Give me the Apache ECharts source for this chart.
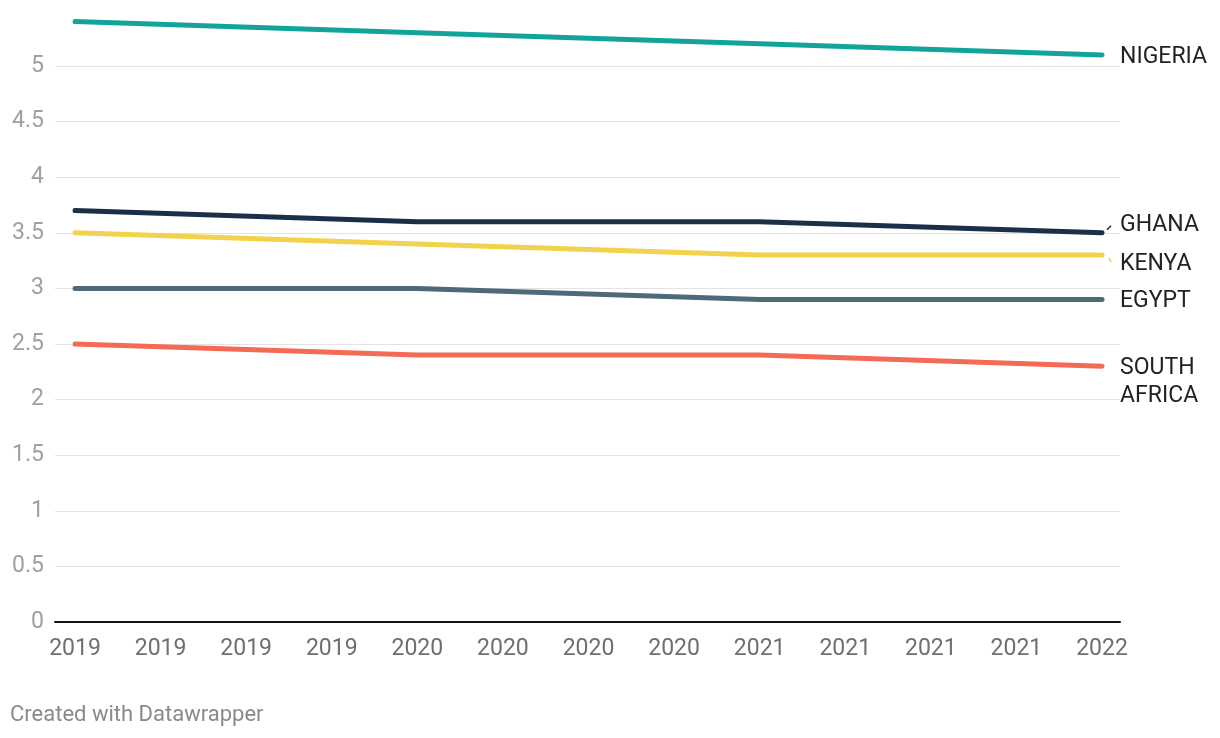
<!DOCTYPE html>
<html>
<head>
<meta charset="utf-8">
<script src="https://cdn.jsdelivr.net/npm/echarts@6/dist/echarts.min.js"></script>
<style>
html,body{margin:0;padding:0;background:#fff;}
#c{width:1220px;height:738px;}
</style>
</head>
<body>
<div id="c"></div>
<script>
// Tick labels along the x axis (one per quarter step)
const categories = ['2019','2019','2019','2019','2020','2020','2020','2020','2021','2021','2021','2021','2022'];
// Values read at each year mark; null = no observation between marks
const nigeria     = [5.4, null, null, null, 5.3, null, null, null, 5.2, null, null, null, 5.1];
const ghana       = [3.7, null, null, null, 3.6, null, null, null, 3.6, null, null, null, 3.5];
const kenya       = [3.5, null, null, null, 3.4, null, null, null, 3.3, null, null, null, 3.3];
const egypt       = [3.0, null, null, null, 3.0, null, null, null, 2.9, null, null, null, 2.9];
const southAfrica = [2.5, null, null, null, 2.4, null, null, null, 2.4, null, null, null, 2.3];
const seriesNames = ['NIGERIA', 'GHANA', 'KENYA', 'EGYPT', 'SOUTH\nAFRICA'];
const yTicks = [0, 0.5, 1, 1.5, 2, 2.5, 3, 3.5, 4, 4.5, 5];

const colors = ['#12a39a', '#1c2f48', '#f2d14c', '#4e6978', '#f46a56'];
const labelOffsets = [[0, 2], [0, -8], [0, 9], [0, 2], [0, 16]];
const allValues = [nigeria, ghana, kenya, egypt, southAfrica];

function toPairs(arr) {
  return arr.map((v, i) => [i, v]).filter(p => p[1] !== null);
}

const chart = echarts.init(document.getElementById('c'), null, {renderer: 'canvas'});
const FONT = 'Roboto, "Noto Sans", sans-serif';

const series = allValues.map((vals, k) => ({
  name: seriesNames[k],
  type: 'line',
  data: toPairs(vals),
  connectNulls: true,
  showSymbol: false,
  symbol: 'none',
  smooth: false,
  lineStyle: {width: 5, color: colors[k], cap: 'round', join: 'round'},
  itemStyle: {color: colors[k]},
  endLabel: {
    show: true,
    formatter: seriesNames[k],
    color: '#222',
    fontFamily: FONT,
    fontSize: 23,
    lineHeight: 28,
    distance: 18,
    offset: labelOffsets[k]
  },
  emphasis: {disabled: true},
  z: 10 - k
}));

const footer = {type: 'text', left: 10, top: 704, style: {text: 'Created with Datawrapper', fill: '#8a8a8a', font: '22px ' + FONT}};

chart.setOption({
  animation: false,
  backgroundColor: '#fff',
  grid: {left: 55, right: 100, top: 10.4, bottom: 116, containLabel: false},
  xAxis: {
    type: 'value',
    min: -0.234,
    max: 12.21,
    splitLine: {show: false},
    axisLine: {show: true, onZero: false, lineStyle: {color: '#111', width: 2}},
    axisTick: {show: false},
    axisLabel: {
      customValues: categories.map((c, i) => i),
      formatter: v => categories[Math.round(v)],
      color: '#6f6f6f',
      fontFamily: FONT,
      fontSize: 23,
      margin: 16
    }
  },
  yAxis: {
    type: 'value',
    min: 0,
    max: 5.5,
    interval: 0.5,
    axisLine: {show: false},
    axisTick: {show: false},
    splitLine: {
      show: true,
      lineStyle: {color: yTicks.map(() => '#e3e3e3').concat(['rgba(0,0,0,0)']), width: 1}
    },
    axisLabel: {
      formatter: v => (yTicks.indexOf(Math.round(v * 10) / 10) >= 0 ? String(Math.round(v * 10) / 10) : ''),
      color: '#a0a0a0',
      fontFamily: FONT,
      fontSize: 23,
      margin: 11
    }
  },
  graphic: [footer],
  series: series
});

// small connector ticks for the nudged labels (Ghana, Kenya)
const last = categories.length - 1;
const gEnd = chart.convertToPixel({gridIndex: 0}, [last, ghana[last]]);
const kEnd = chart.convertToPixel({gridIndex: 0}, [last, kenya[last]]);
chart.setOption({
  graphic: [
    footer,
    {type: 'line', shape: {x1: gEnd[0] + 5, y1: gEnd[1] - 3, x2: gEnd[0] + 9, y2: gEnd[1] - 7}, style: {stroke: colors[1], lineWidth: 1.5}},
    {type: 'line', shape: {x1: kEnd[0] + 7, y1: kEnd[1] + 3, x2: kEnd[0] + 9, y2: kEnd[1] + 7}, style: {stroke: colors[2], lineWidth: 1.5}}
  ]
}, {replaceMerge: ['graphic']});
</script>
</body>
</html>
